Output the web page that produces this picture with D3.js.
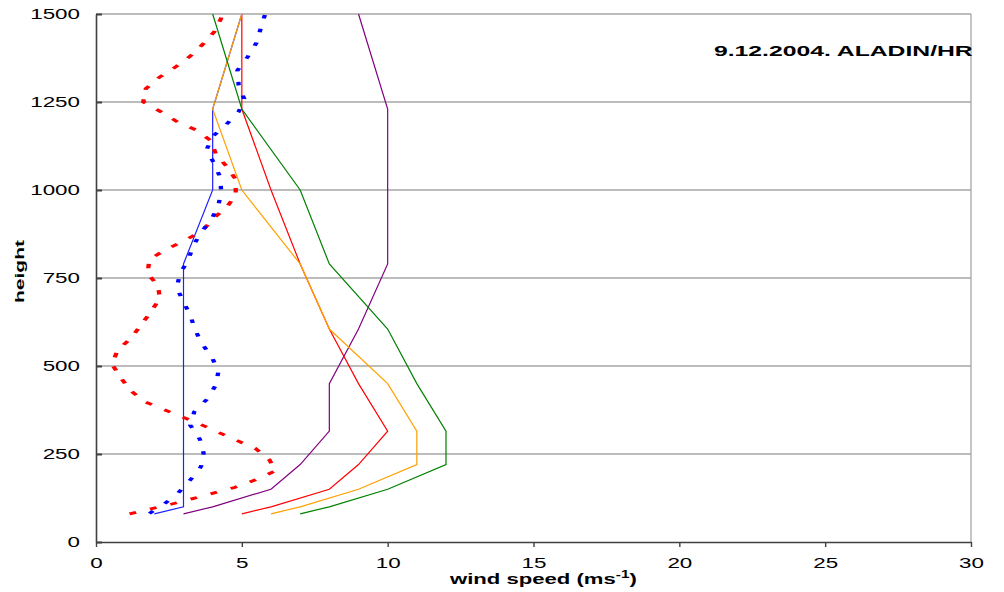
<!DOCTYPE html>
<html>
<head>
<meta charset="utf-8">
<script src="https://cdn.jsdelivr.net/npm/d3@7"></script>
<style>
  html, body { margin: 0; padding: 0; background: #fff; }
  svg { display: block; font-family: "Liberation Sans", Arial, sans-serif; }
</style>
</head>
<body>
<svg id="chart" width="1004" height="592"></svg>
<script>
// Model levels (m) shared by the five ALADIN profiles
const modelHeights = [80, 100, 150, 220, 315, 450, 605, 790, 1000, 1230, 1500];
const speedBlue   = [2, 3, 3, 3, 3, 3, 3, 3, 4, 4, 5];
const speedPurple = [3, 4, 6, 7, 8, 8, 9, 10, 10, 10, 9];
const speedRed    = [5, 6, 8, 9, 10, 9, 8, 7, 6, 5, 5];
const speedOrange = [6, 7, 9, 11, 11, 10, 8, 7, 5, 4, 5];
const speedGreen  = [7, 8, 10, 12, 12, 11, 10, 8, 7, 5, 4];

// Sounding profiles (dashed red, dotted blue)
const soundRedHeight = [80, 108, 124, 155, 176, 202, 233, 266, 288, 335, 399, 430, 470, 505,
  545, 579, 616, 654, 692, 727, 763, 803, 831, 856, 884, 919, 952, 986, 1030, 1066, 1102,
  1140, 1171, 1193, 1222, 1250, 1288, 1320, 1349, 1380, 1413, 1449, 1486, 1500];
const soundRedSpeed = [1.15, 2.6, 3.35, 4.75, 5.45, 6.15, 5.95, 5.46, 4.84, 3.56, 1.65, 1.19, 0.82, 0.55,
  0.74, 1.2, 1.54, 1.88, 2.19, 2.13, 1.77, 1.83, 2.4, 3.02, 3.65, 4.02, 4.49, 4.79, 4.79, 4.49, 4.11,
  3.94, 3.42, 2.8, 2.23, 1.62, 1.71, 2.17, 2.72, 3.23, 3.65, 4.05, 4.28, 4.33];
const soundBlueHeight = [81, 108, 138, 176, 214, 252, 292, 332, 370, 405, 446, 486, 525, 564, 604,
  645, 683, 723, 762, 803, 841, 879, 918, 957, 997, 1036, 1078, 1116, 1152, 1185, 1222, 1259,
  1299, 1340, 1377, 1418, 1457, 1500];
const soundBlueSpeed = [1.83, 2.34, 2.8, 3.23, 3.6, 3.69, 3.56, 3.23, 3.37, 3.8, 4.11, 4.2, 3.97, 3.63, 3.39,
  3.23, 2.99, 2.77, 2.88, 3.17, 3.33, 3.6, 3.97, 4.2, 4.29, 4.26, 4.03, 3.8, 4.0, 4.45, 4.89, 5.08,
  4.89, 4.85, 5.19, 5.5, 5.64, 5.8];

const xTicks = [0, 5, 10, 15, 20, 25, 30];
const yTicks = [0, 250, 500, 750, 1000, 1250, 1500];
const titleText = "9.12.2004. ALADIN/HR";

const svg = d3.select("#chart");
const plotLeft = 96, plotRight = 971, plotTop = 14, plotBottom = 542;

const x = d3.scaleLinear().domain([0, 30]).range([plotLeft, plotRight]);
const y = d3.scaleLinear().domain([0, 1500]).range([plotBottom, plotTop]);

// Horizontal glyph stretch used for the tick lettering
const textStretch = 1.6;

// Gridlines and plot frame
const grid = svg.append("g");
grid.selectAll("line.h").data(yTicks.filter(d => d > 0)).join("line")
  .attr("x1", plotLeft).attr("x2", plotRight)
  .attr("y1", d => y(d)).attr("y2", d => y(d))
  .attr("stroke", "#a6a6a6").attr("stroke-width", 1.3);
grid.append("line")
  .attr("x1", plotRight).attr("x2", plotRight).attr("y1", plotTop).attr("y2", plotBottom)
  .attr("stroke", "#a6a6a6").attr("stroke-width", 1.3);

// Model profiles: solid polylines
const profileLine = d3.line().x(d => x(d[0])).y(d => y(d[1]));
const solidSeries = [
  { v: speedBlue,   c: "#2020ff" },
  { v: speedPurple, c: "#800080" },
  { v: speedRed,    c: "#ff0000" },
  { v: speedOrange, c: "#ffa000" },
  { v: speedGreen,  c: "#008000" }
];
svg.append("g").selectAll("path").data(solidSeries).join("path")
  .attr("d", s => profileLine(s.v.map((v, i) => [v, modelHeights[i]])))
  .attr("fill", "none").attr("stroke", s => s.c).attr("stroke-width", 1.2);

// Sounding profiles: laid out in a horizontally compressed frame and
// stretched back, so dashes lengthen along the flatter runs
const dashStretch = 1.55;
const xc = d3.scaleLinear().domain([0, 30]).range([plotLeft / dashStretch, plotRight / dashStretch]);
const dashLine = d3.line().x(d => xc(d[0])).y(d => y(d[1]));
const dashed = svg.append("g").attr("transform", `scale(${dashStretch},1)`);
dashed.append("path")
  .attr("d", dashLine(soundRedSpeed.map((v, i) => [v, soundRedHeight[i]])))
  .attr("fill", "none").attr("stroke", "#ff0000").attr("stroke-width", 2.8)
  .attr("stroke-dasharray", "4.5,9.5");
dashed.append("path")
  .attr("d", dashLine(soundBlueSpeed.map((v, i) => [v, soundBlueHeight[i]])))
  .attr("fill", "none").attr("stroke", "#0000ff").attr("stroke-width", 2.8)
  .attr("stroke-dasharray", "3.5,10.5");

// Axes
const axisColor = "#404040";
const xAxis = svg.append("g").attr("transform", `translate(0,${plotBottom})`)
  .call(d3.axisBottom(x).tickValues(xTicks).tickFormat(d3.format("d"))
    .tickSizeInner(5).tickSizeOuter(0));
xAxis.select(".domain").attr("stroke", axisColor).attr("stroke-width", 1.6);
xAxis.selectAll(".tick line").attr("stroke", axisColor).attr("stroke-width", 1.4);
xAxis.selectAll(".tick text")
  .attr("y", 16).attr("dy", "0.71em")
  .attr("transform", `scale(${textStretch},1)`)
  .attr("font-size", 14).attr("fill", "#000");

const yAxis = svg.append("g").attr("transform", `translate(${plotLeft},0)`)
  .call(d3.axisLeft(y).tickValues(yTicks).tickFormat(d3.format("d"))
    .tickSizeInner(-6).tickSizeOuter(0).tickPadding(16));
yAxis.select(".domain").attr("stroke", axisColor).attr("stroke-width", 1.6);
yAxis.selectAll(".tick line").attr("stroke", axisColor).attr("stroke-width", 2);
yAxis.selectAll(".tick text")
  .attr("x", -16 / textStretch)
  .attr("transform", `scale(${textStretch},1)`)
  .attr("font-size", 14).attr("fill", "#000");
xAxis.attr("font-family", null);
yAxis.attr("font-family", null);

// Fit a text element to a target visible width by stretching it horizontally
function stretchTo(sel, tx, ty, width, rotate) {
  const natural = sel.node().getComputedTextLength();
  const s = width / natural;
  sel.attr("transform", `translate(${tx},${ty})${rotate ? " rotate(-90)" : ""} scale(${s},1)`);
}

// Title
const title = svg.append("text").attr("font-size", 15.5).attr("font-weight", "bold")
  .attr("fill", "#000").text(titleText);
stretchTo(title, 714, 56, 259, false);

// X axis label with superscript unit
const xLabel = svg.append("text").attr("font-size", 14.5).attr("font-weight", "bold").attr("fill", "#000");
xLabel.append("tspan").text("wind speed (ms");
xLabel.append("tspan").attr("font-size", 10).attr("dy", -6).text("-1");
xLabel.append("tspan").attr("dy", 6).text(")");
stretchTo(xLabel, 450, 584, 187, false);

// Y axis label
const yLabel = svg.append("text").attr("font-size", 12.5).attr("font-weight", "bold")
  .attr("fill", "#000").text("height");
stretchTo(yLabel, 24, 303, 63, true);
</script>
</body>
</html>
